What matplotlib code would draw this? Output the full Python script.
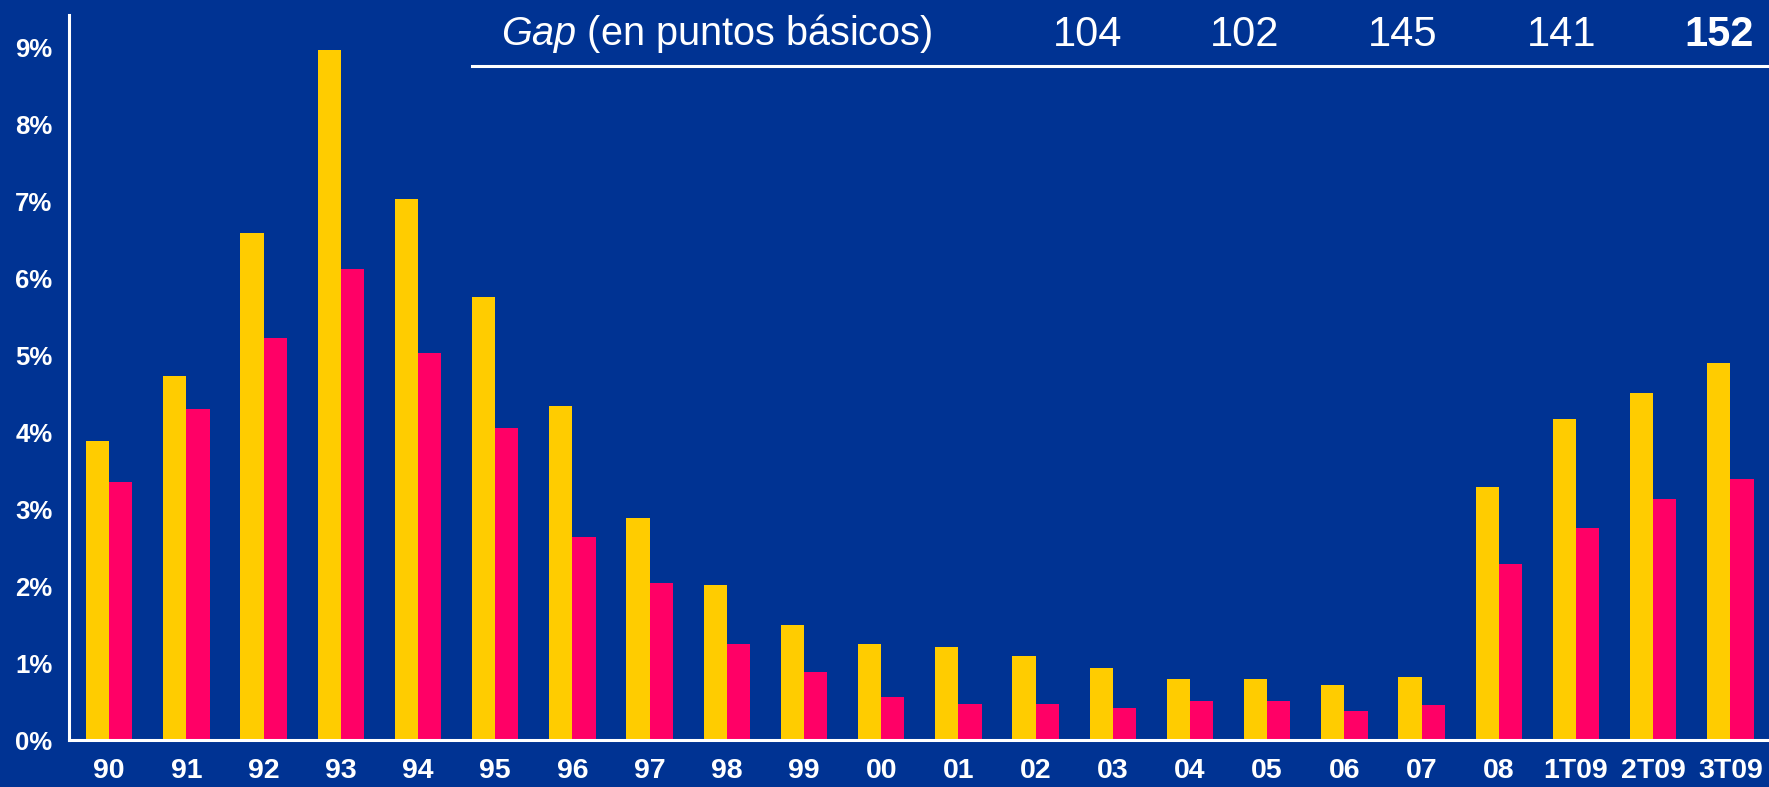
import matplotlib
matplotlib.use('Agg')
import matplotlib.pyplot as plt
from matplotlib.lines import Line2D
import numpy as np

years = ['90', '91', '92', '93', '94', '95', '96', '97', '98', '99', '00', '01',
         '02', '03', '04', '05', '06', '07', '08', '1T09', '2T09', '3T09']
yellow_vals = [3.89, 4.73, 6.59, 8.97, 7.04, 5.76, 4.34, 2.89, 2.01, 1.49, 1.25, 1.21,
               1.09, 0.93, 0.79, 0.79, 0.71, 0.82, 3.29, 4.18, 4.51, 4.90]
pink_vals = [3.36, 4.31, 5.23, 6.12, 5.03, 4.06, 2.64, 2.04, 1.25, 0.89, 0.56, 0.47,
             0.47, 0.42, 0.51, 0.51, 0.38, 0.46, 2.29, 2.76, 3.13, 3.40]
yticks = [0, 1, 2, 3, 4, 5, 6, 7, 8, 9]
gap_vals = ['104', '102', '145', '141', '152']

bg = '#003393'
plt.rcParams['font.family'] = ['Liberation Sans', 'DejaVu Sans']
plt.rcParams['mathtext.fontset'] = 'custom'
plt.rcParams['mathtext.it'] = 'Liberation Sans:italic'
plt.rcParams['mathtext.rm'] = 'Liberation Sans'

W, H = 1769, 787
fig = plt.figure(figsize=(W / 100, H / 100), dpi=100, facecolor=bg)
# axes box in pixels: left 69, right 1769, bottom 740 from top, top 15 from top
ax = fig.add_axes([69 / W, (H - 740) / H, (W - 69) / W, (740 - 15) / H])
ax.set_facecolor(bg)

x = np.arange(len(years))
w = 0.3
ax.bar(x - w / 2, yellow_vals, w, color='#FFCC00', zorder=2)
ax.bar(x + w / 2, pink_vals, w, color='#FF0066', zorder=2)

ax.set_xlim(-0.52, len(years) - 0.5)
ax.set_ylim(0, 725 / 76.9)

ax.set_xticks(x)
ax.set_xticklabels(years, fontsize=20.5, fontweight='bold', color='white')
ax.set_yticks(yticks)
ax.set_yticklabels([str(v) + '%' for v in yticks], fontsize=18.5, fontweight='bold', color='white')
ax.tick_params(axis='x', length=0, pad=13)
ax.tick_params(axis='y', length=0, pad=12)

for s in ['top', 'right']:
    ax.spines[s].set_visible(False)
for s in ['left', 'bottom']:
    ax.spines[s].set_color('white')
    ax.spines[s].set_linewidth(2.2)
    ax.spines[s].set_zorder(3)

# header with gap values
fig.text(501 / W, 1 - 45 / H, r'$Gap$ (en puntos básicos)', fontsize=28.5,
         color='white', ha='left', va='baseline')
gap_x = [1088, 1245, 1403, 1562, 1719.5]
for i, g in enumerate(gap_vals):
    fig.text(gap_x[i] / W, 1 - 45.7 / H, g, fontsize=30, color='white',
             ha='center', va='baseline',
             fontweight='bold' if i == len(gap_vals) - 1 else 'normal')
fig.add_artist(Line2D([472 / W, 1], [1 - 65.7 / H, 1 - 65.7 / H],
                      color='white', linewidth=2.2, transform=fig.transFigure))

plt.savefig('out.png', dpi=100, facecolor=bg)
